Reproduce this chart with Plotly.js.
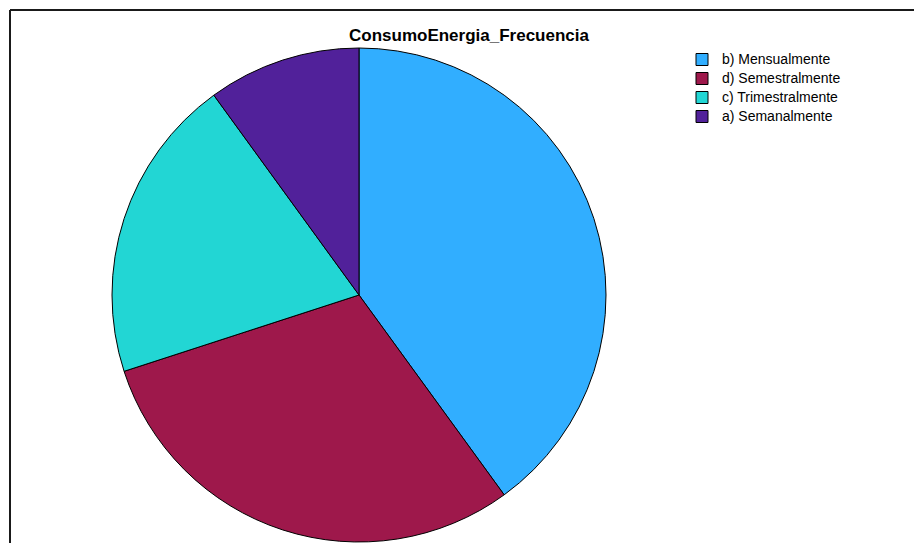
<!DOCTYPE html>
<html>
<head>
<meta charset="utf-8">
<script src="https://cdn.plot.ly/plotly-3.0.1.min.js"></script>
<style>
  html, body { margin: 0; padding: 0; background: #ffffff; }
  #chart { width: 914px; height: 543px; }
</style>
</head>
<body>
<div id="chart"></div>
<script>
// Energy consumption: how often it is checked
const categories = ['b) Mensualmente', 'd) Semestralmente', 'c) Trimestralmente', 'a) Semanalmente'];
const counts = [4, 3, 2, 1];
const sliceColors = ['#31aeff', '#9e184b', '#22d6d4', '#51219a'];

const W = 914, H = 543;
// pie placement in pixels, converted to paper fractions
const cx = 359, cy = 295, r = 247;

// legend rows are packed tightly, so the row height comes from a small base
// font while the label text itself is drawn a little larger
const legendLabels = categories.map(c => '<span style="font-size:14px">' + c + '</span>');

const trace = {
  type: 'pie',
  labels: legendLabels,
  values: counts,
  sort: false,
  direction: 'clockwise',
  rotation: 0,
  textinfo: 'none',
  hoverinfo: 'label+value+percent',
  marker: { colors: sliceColors, line: { color: '#000000', width: 1 } },
  domain: {
    x: [(cx - r) / W, (cx + r) / W],
    y: [(H - cy - r) / H, (H - cy + r) / H]
  }
};

const layout = {
  width: W,
  height: H,
  margin: { l: 0, r: 0, t: 0, b: 0 },
  paper_bgcolor: '#ffffff',
  font: { family: 'Liberation Sans, Arial, sans-serif', color: '#000000' },
  title: {
    text: '<b>ConsumoEnergia_Frecuencia</b>',
    font: { size: 17, family: 'Liberation Sans, Arial, sans-serif', color: '#000000' },
    x: 469 / W,
    xanchor: 'center',
    y: 1 - 35 / H,
    yanchor: 'middle'
  },
  showlegend: true,
  legend: {
    x: 682 / W,
    xanchor: 'left',
    y: 1 - 45 / H,
    yanchor: 'top',
    traceorder: 'normal',
    font: { size: 11, family: 'Liberation Sans, Arial, sans-serif', color: '#000000' },
    itemwidth: 30,
    tracegroupgap: 0,
    bgcolor: 'rgba(0,0,0,0)'
  },
  shapes: [
    { type: 'line', xref: 'paper', yref: 'paper', x0: 10 / W, x1: 1, y0: 1 - 10 / H, y1: 1 - 10 / H,
      line: { color: '#1a1a1a', width: 2 } },
    { type: 'line', xref: 'paper', yref: 'paper', x0: 10 / W, x1: 10 / W, y0: 0, y1: 1 - 10 / H,
      line: { color: '#1a1a1a', width: 2 } }
  ]
};

Plotly.newPlot('chart', [trace], layout, { displayModeBar: false, staticPlot: true });
</script>
</body>
</html>
